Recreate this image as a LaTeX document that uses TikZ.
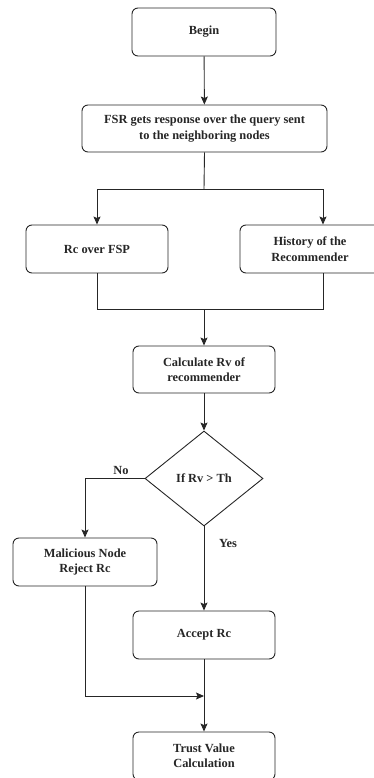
\documentclass[tikz,border=0pt]{standalone}
\usepackage{fontspec}
\setmainfont{Liberation Serif}
\usetikzlibrary{arrows.meta, shapes.geometric, calc}

\tikzset{
  box/.style={draw=black!85, rounded corners=6pt, line width=0.9pt, align=center,
    font=\bfseries\fontsize{12.4}{15.5}\selectfont, text=black!85,
    minimum height=48pt, inner sep=2pt},
  cond/.style={draw=black!85, diamond, line width=0.9pt, align=center, aspect=1.24,
    font=\bfseries\fontsize{12.4}{15.5}\selectfont, text=black!85,
    minimum width=118pt, minimum height=95pt, inner sep=0pt},
  arr/.style={draw=black!85, line width=0.9pt, -{Stealth[length=8pt,width=7pt,inset=1.5pt]}},
  line/.style={draw=black!85, line width=0.9pt},
  lbl/.style={font=\bfseries\fontsize{12.4}{15.5}\selectfont, text=black!85, inner sep=0.75pt}
}

\begin{document}
\begin{tikzpicture}[x=1pt,y=1pt,yscale=-1,xscale=1]
\useasboundingbox (0,0) rectangle (373,778);

% Nodes
\node [box, minimum width=144pt] (begin) at (204,32) {Begin};
\node [box, minimum width=245pt, minimum height=47pt] (fsr) at (204.5,128.5) {FSR gets response over the query sent\\to the neighboring nodes};
\node [box, minimum width=142pt] (rc) at (97,249) {Rc over FSP};
\node [box, minimum width=140pt] (hist) at (310,249) {History of the\\Recommender};
\node [box, minimum width=142pt, minimum height=47pt] (calc) at (204,369.5) {Calculate Rv of\\recommender};
\node [cond] (dec) at (204,478.5) {If Rv > Th};
\node [box, minimum width=144pt] (mal) at (85,562) {Malicious Node\\Reject Rc};
\node [box, minimum width=142pt] (acc) at (204,635) {Accept Rc};
\node [box, minimum width=142pt] (trust) at (204,756) {Trust Value\\Calculation};

% Junction points
\coordinate (split) at (204,189);
\coordinate (merge) at (204,309);
\coordinate (histin) at ($(hist.north)+(13,0)$);
\coordinate (histout) at ($(hist.south)+(13,0)$);
\coordinate (join) at (204,696);

% Connectors
\draw [arr] (begin) -- (fsr);
\draw [line] (fsr.south) -- (split);
\draw [arr] (split) -| (rc.north);
\draw [arr] (split) -| (histin);
\draw [line] (rc.south) |- (merge);
\draw [line] (histout) |- (merge);
\draw [arr] (merge) -- (calc.north);
\draw [arr] (calc) -- (dec);
\draw [arr] (dec.west) -| (mal.north);
\draw [arr] (dec.south) -- (acc.north);
\draw [arr] (acc) -- (trust);
\draw [arr] (mal.south) |- (join);

% Text Node
\node [lbl] (no) at (121,470) {No};
\node [lbl] (yes) at (228,543) {Yes};

\end{tikzpicture}
\end{document}
